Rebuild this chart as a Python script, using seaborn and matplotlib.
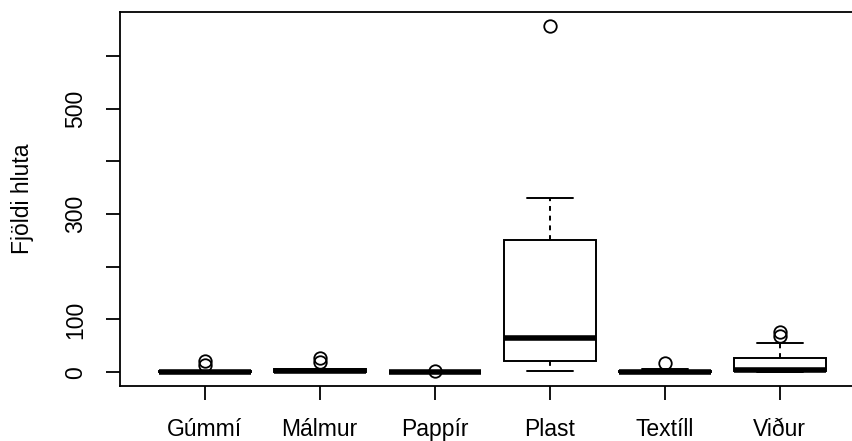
import matplotlib
matplotlib.use("Agg")
import matplotlib.pyplot as plt
import seaborn as sns
import pandas as pd

categories = ["Gúmmí", "Málmur", "Pappír", "Plast", "Textíll", "Viður"]
gummi = [0, 0, 0, 1, 1, 2, 3, 14, 22]
malmur = [0, 1, 1, 2, 3, 5, 6, 19, 26]
pappir = [0, 0, 0, 0, 0, 0, 0, 0, 2]
plast = [3, 10, 21, 45, 64, 150, 250, 331, 658]
textill = [0, 0, 0, 0, 1, 2, 3, 6, 17]
vidur = [0, 1, 1, 2, 3, 4, 5, 15, 20, 27, 55, 68, 76]
y_ticks = [0, 100, 200, 300, 400, 500, 600]
y_ticklabels = ["0", "100", "", "300", "", "500", ""]

series = [gummi, malmur, pappir, plast, textill, vidur]
rows = []
for cat, vals in zip(categories, series):
    for v in vals:
        rows.append({"flokkur": cat, "fjoldi": v})
df = pd.DataFrame(rows)

sns.set_style("ticks")
plt.rcParams["font.family"] = ["Liberation Sans", "DejaVu Sans"]
plt.rcParams["text.color"] = "black"
plt.rcParams["axes.labelcolor"] = "black"
plt.rcParams["xtick.color"] = "black"
plt.rcParams["ytick.color"] = "black"

fig = plt.figure(figsize=(8.52, 4.41), dpi=100)
ax = fig.add_axes([119.5 / 852, 55 / 441, 745.2 / 852, 374.3 / 441])

sns.boxplot(
    data=df, x="flokkur", y="fjoldi", order=categories, ax=ax,
    color="white", linecolor="black", linewidth=1.4, saturation=1,
    width=0.8, whis=1.5,
    medianprops={"linewidth": 4.0, "color": "black", "solid_capstyle": "butt"},
    whiskerprops={"linestyle": (0, (2.5, 2.5)), "color": "black"},
    capprops={"color": "black"},
    flierprops={"marker": "o", "markerfacecolor": "none",
                "markeredgecolor": "black", "markersize": 9,
                "markeredgewidth": 1.3},
)

ax.set_xlim(-0.74, 5.74)
ax.set_ylim(-26.3, 684.3)
ax.set_yticks(y_ticks)
ax.set_yticklabels(y_ticklabels, rotation=90, va="center", fontsize=16.5)
ax.set_xticks(range(len(categories)))
ax.set_xticklabels(categories, fontsize=16.5)
ax.tick_params(axis="both", length=10, width=1.3, color="black")
ax.tick_params(axis="y", pad=13)
ax.tick_params(axis="x", pad=13)
ax.set_xlabel("")
ax.set_ylabel("Fjöldi hluta", fontsize=16.5)
ax.yaxis.set_label_coords(-(119.5 - 34) / 745.2, 0.5)
for s in ax.spines.values():
    s.set_visible(True)
    s.set_linewidth(1.3)
    s.set_color("black")

fig.savefig("out.png", dpi=100)
